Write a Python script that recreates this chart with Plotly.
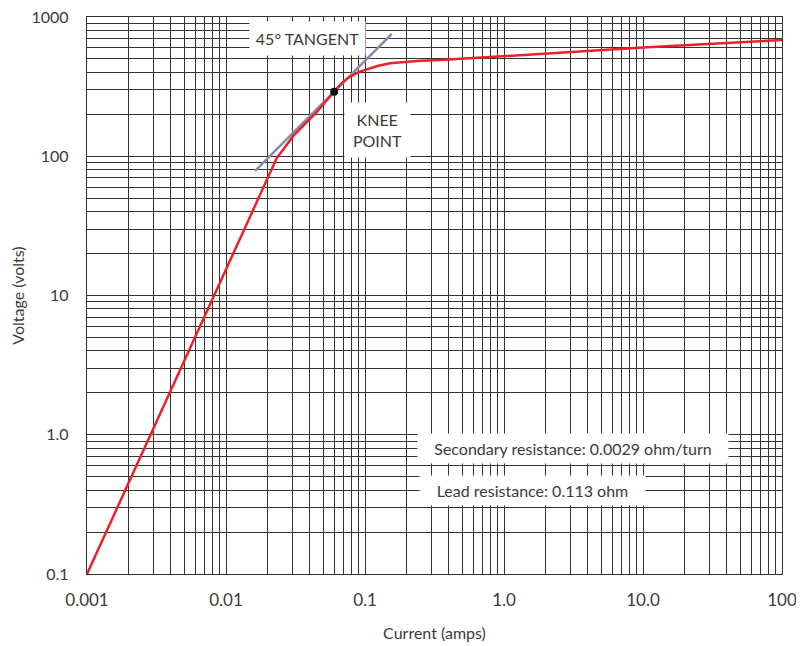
import plotly.graph_objects as go

# Excitation curve (current in amps, voltage in volts)
current = [0.001, 0.0232, 0.0305, 0.045, 0.06, 0.068, 0.078, 0.09, 0.103, 0.125, 0.151, 0.2, 0.25, 0.35, 1.0, 10.0, 100.0]
voltage = [0.1, 97, 140, 208, 291, 335, 373, 402, 421, 446, 465, 478, 485, 491, 525, 603, 684]

# 45 degree tangent line
tangent_x = [0.0162, 0.156]
tangent_y = [78.6, 757]

# knee point
knee_x = [0.06]
knee_y = [291]

x_tickvals = [0.001, 0.01, 0.1, 1, 10, 100]
x_ticktext = ["0.001", "0.01", "0.1", "1.0", "10.0", "100"]
y_tickvals = [0.1, 1, 10, 100, 1000]
y_ticktext = ["0.1", "1.0", "10", "100", "1000"]

x_minor = [m * 10.0 ** e for e in range(-3, 2) for m in range(2, 10)]
y_minor = [m * 10.0 ** e for e in range(-1, 3) for m in range(2, 10)]

FONT = "Lato"
TXT = "#3a3a3a"
GRID = "#333333"

fig = go.Figure()
fig.add_trace(go.Scatter(x=tangent_x, y=tangent_y, mode="lines",
                         line=dict(color="#8a87b0", width=2.5), hoverinfo="skip"))
fig.add_trace(go.Scatter(x=current, y=voltage, mode="lines",
                         line=dict(color="#ee1f2b", width=2.5)))
fig.add_trace(go.Scatter(x=knee_x, y=knee_y, mode="markers",
                         marker=dict(color="#111111", size=8)))

# page body has an 8px margin; lay out so the plot lands at 87..782 x 17..574
OFF = 8
L, R, T, B = 87 - OFF, 22, 17 - OFF, 72
W, H = 804 - OFF, 646 - OFF
pw, ph = W - L - R, H - T - B

def px(xp):
    return (xp - OFF - L) / pw

def py(yp):
    return (H - B - (yp - OFF)) / ph

annots = [
    ("45° TANGENT", 307.5, 39, 113, 31),
    ("KNEE<br>POINT", 377.5, 130, 63, 52),
    ("Secondary resistance: 0.0029 ohm/turn", 573, 448.5, 308, 27),
    ("Lead resistance: 0.113 ohm", 532.5, 490.5, 223, 27),
]
for text, cx, cy, w, h in annots:
    fig.add_annotation(text=text, xref="paper", yref="paper", x=px(cx), y=py(cy),
                       xanchor="center", yanchor="middle", showarrow=False,
                       width=w, height=h, bgcolor="white", borderpad=1,
                       align="center",
                       font=dict(family=FONT, size=16, color=TXT))

fig.update_xaxes(type="log", range=[-3, 2], tickvals=x_tickvals, ticktext=x_ticktext,
                 showgrid=True, gridcolor=GRID, gridwidth=1.3,
                 minor=dict(tickvals=x_minor, showgrid=True, gridcolor=GRID, gridwidth=1.3, ticks=""),
                 showline=True, mirror=True, linecolor=GRID, linewidth=1.3,
                 ticks="", zeroline=False, ticklabelstandoff=10, ticklabeloverflow="allow",
                 tickfont=dict(family=FONT, size=17, color=TXT),
                 title=dict(text="Current (amps)", font=dict(family=FONT, size=16, color=TXT), standoff=19))
fig.update_yaxes(type="log", range=[-1, 3], tickvals=y_tickvals, ticktext=y_ticktext,
                 showgrid=True, gridcolor=GRID, gridwidth=1.3,
                 minor=dict(tickvals=y_minor, showgrid=True, gridcolor=GRID, gridwidth=1.3, ticks=""),
                 showline=True, mirror=True, linecolor=GRID, linewidth=1.3,
                 ticks="", zeroline=False, ticklabelstandoff=14, ticklabeloverflow="allow",
                 tickfont=dict(family=FONT, size=16, color=TXT),
                 title=dict(text="Voltage (volts)", font=dict(family=FONT, size=16, color=TXT), standoff=2))

fig.update_layout(width=W, height=H, margin=dict(l=L, r=R, t=T, b=B, autoexpand=False),
                  plot_bgcolor="white", paper_bgcolor="white", showlegend=False)

fig.write_html("out.html")
